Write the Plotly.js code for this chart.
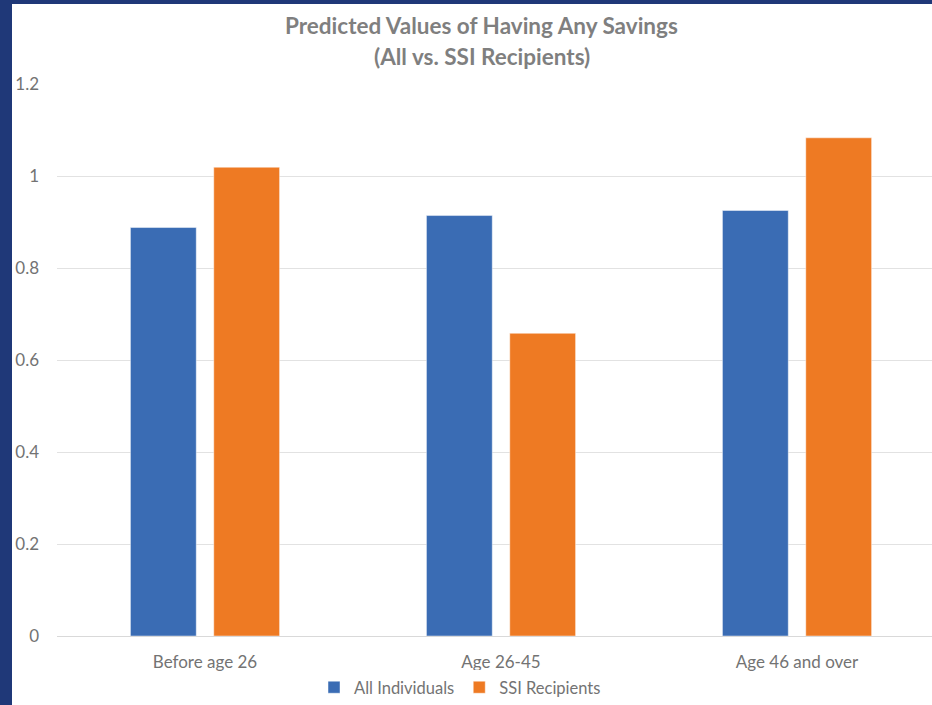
<!DOCTYPE html>
<html>
<head>
<meta charset="utf-8">
<script src="https://cdn.plot.ly/plotly-3.0.1.min.js"></script>
<style>
html,body{margin:0;padding:0;background:#1f3878;width:932px;height:705px;overflow:hidden;}
#chart{position:absolute;left:12px;top:4px;width:920px;height:701px;background:#fff;}
</style>
</head>
<body>
<div id="chart"></div>
<script>
const categories = ["Before age 26", "Age 26-45", "Age 46 and over"];
const allIndividuals = [0.888, 0.914, 0.925];
const ssiRecipients = [1.019, 0.658, 1.083];
const seriesNames = ["All Individuals", "SSI Recipients"];
const titleLines = ["Predicted Values of Having Any Savings", "(All vs. SSI Recipients)"];
const yTicks = [0, 0.2, 0.4, 0.6, 0.8, 1, 1.2];
const yTickText = ["0", "0.2", "0.4", "0.6", "0.8", "1", "1.2"];

const FONT = "Lato, 'Open Sans', sans-serif";

const traces = [
  {type:"bar", name:seriesNames[0], x:categories, y:allIndividuals,
   marker:{color:"#3a6cb4", line:{color:"rgba(255,255,255,0.45)", width:1}}, hoverinfo:"x+y"},
  {type:"bar", name:seriesNames[1], x:categories, y:ssiRecipients,
   marker:{color:"#ee7a23", line:{color:"rgba(255,255,255,0.45)", width:1}}, hoverinfo:"x+y"}
];

const layout = {
  width:920, height:701,
  margin:{l:45, r:0, t:80, b:68, pad:0},
  paper_bgcolor:"#ffffff", plot_bgcolor:"#ffffff",
  barmode:"group", bargap:0.437, bargroupgap:0.21,
  font:{family:FONT, color:"#737373", size:17},
  showlegend:true,
  legend:{orientation:"h", x:0.4606, xanchor:"center", y:-0.094, yanchor:"middle",
          font:{size:16.5, color:"#737373"}, itemwidth:30, traceorder:"normal"},
  xaxis:{type:"category", range:[-0.5, 2.456], showgrid:false, showline:false, zeroline:false,
         ticks:"", ticklabelstandoff:14, tickfont:{size:17, color:"#737373"}, fixedrange:true},
  yaxis:{range:[0,1.2], tickvals:yTicks, ticktext:yTickText, showgrid:true, gridcolor:"#e2e2e2",
         gridwidth:1, zeroline:true, zerolinecolor:"#d9d9d9", zerolinewidth:1, showline:false,
         ticks:"", ticklabelstandoff:17, tickfont:{size:17, color:"#737373"}, fixedrange:true},
  annotations:[
    {xref:"paper", yref:"paper", x:0.4857, y:1.1067, xanchor:"center", yanchor:"middle",
     text:"<b>"+titleLines[0]+"</b>", showarrow:false, font:{size:22.5, color:"#7f7f7f", family:FONT}},
    {xref:"paper", yref:"paper", x:0.4857, y:1.0506, xanchor:"center", yanchor:"middle",
     text:"<b>"+titleLines[1]+"</b>", showarrow:false, font:{size:22.5, color:"#7f7f7f", family:FONT}}
  ]
};

Plotly.newPlot("chart", traces, layout, {displayModeBar:false, staticPlot:true});
</script>
</body>
</html>
